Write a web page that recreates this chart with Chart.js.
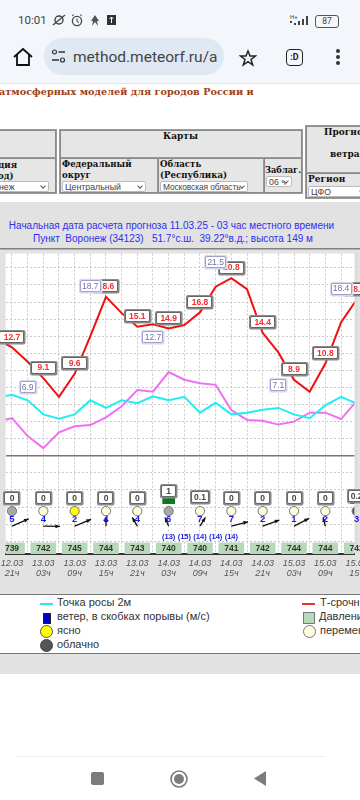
<!DOCTYPE html>
<html lang="ru"><head><meta charset="utf-8"><title>Прогноз</title>
<script src="https://cdn.jsdelivr.net/npm/chart.js@4"></script>
<style>
html,body{margin:0;padding:0;background:#fff;width:360px;height:800px;overflow:hidden;font-family:"Liberation Sans",Arial,sans-serif}
.a{position:absolute;white-space:nowrap}
.s{font-family:"DejaVu Serif",serif;font-weight:bold;color:#111}
.cell{position:absolute;border:1px solid #8a8a8a;background:#e6e6e6;box-sizing:border-box;box-shadow:0 0 0 1px #9a9a9a}
.sel{position:absolute;background:#fff;border:1px solid #bbb;border-radius:2px;font:8.8px "Liberation Sans",sans-serif;color:#444;box-sizing:border-box;padding-left:2px;line-height:10px;height:11px;white-space:nowrap;overflow:hidden}
.sel:after{content:"";position:absolute;right:3px;top:2px;width:3px;height:3px;border-right:1px solid #555;border-bottom:1px solid #555;transform:rotate(45deg);background:#fff}
.leg{position:absolute;font:11px "Liberation Sans",sans-serif;color:#333;white-space:nowrap}
</style></head><body>
<div class="a" style="left:0;top:0;width:360px;height:83px;background:#f3f6fb;border-bottom:1px solid #e4e6ea"></div>
<div class="a" style="left:18px;top:13px;font:11.5px Roboto,sans-serif;color:#444">10:01</div>
<svg class="a" style="left:52px;top:13px" width="118" height="14" viewBox="0 0 118 14">
<circle cx="7" cy="7" r="4" fill="none" stroke="#444" stroke-width="1.4"/><path d="M1 12L13 2" stroke="#444" stroke-width="1.3"/>
<circle cx="25" cy="8" r="4.6" fill="none" stroke="#444" stroke-width="1.3"/><path d="M25 5.5V8.5L27 9.5M20 3L22 1.5M30 3L28 1.5" stroke="#444" fill="none"/>
<path d="M43 2L47 8H45L46 13L43 9L40 13L41 8H39Z" fill="#555"/>
<rect x="55" y="2" width="9" height="10" fill="#333"/><path d="M59.5 4V10M57.5 6L59.5 4L61.5 6" stroke="#fff" fill="none"/></svg>
<div class="a" style="left:290px;top:13px;font:6px Roboto,sans-serif;color:#444">H+</div>
<svg class="a" style="left:289px;top:14px" width="22" height="12" viewBox="0 0 22 12"><path d="M1 8h2M6 9v2M10 7v4M14 5v6M18 2v9" stroke="#444" stroke-width="2"/></svg>
<div class="a" style="left:315px;top:15px;width:22px;height:11px;border:1px solid #555;border-radius:3px;font:8.5px/11px Roboto,sans-serif;color:#444;text-align:center;box-sizing:content-box">87</div>
<svg class="a" style="left:12px;top:46px" width="22" height="22" viewBox="0 0 22 22"><path d="M2 11L11 3L20 11M5 9V19H17V9" fill="none" stroke="#111" stroke-width="1.8"/></svg>
<div class="a" style="left:44px;top:38px;width:180px;height:37px;border-radius:19px;background:#dfe8f3"></div>
<svg class="a" style="left:51px;top:49px" width="15" height="15" viewBox="0 0 15 15"><circle cx="3.5" cy="3" r="2" fill="none" stroke="#333" stroke-width="1.2"/><path d="M7.500 3H14M1 11H8" stroke="#333" stroke-width="1.4"/><circle cx="11.500" cy="11" r="2" fill="none" stroke="#333" stroke-width="1.2"/></svg>
<div class="a" style="left:73px;top:48px;width:145px;overflow:hidden;font:15.5px Roboto,sans-serif;color:#444">method.meteorf.ru/an</div>
<svg class="a" style="left:239px;top:49px" width="18" height="18" viewBox="0 0 18 18"><path d="M9 2L11 7H16.500L12 10.500L13.700 16L9 12.700L4.300 16L6 10.500L1.500 7H7Z" fill="none" stroke="#222" stroke-width="1.5"/></svg>
<div class="a" style="left:286px;top:49px;width:15px;height:15px;border:1.5px solid #222;border-radius:4px;font:bold 9px/15px Roboto,sans-serif;text-align:center;color:#222">:D</div>
<svg class="a" style="left:334px;top:48px" width="8" height="18" viewBox="0 0 8 18"><circle cx="4" cy="3" r="2" fill="#333"/><circle cx="4" cy="9" r="2" fill="#333"/><circle cx="4" cy="15" r="2" fill="#333"/></svg>

<div class="a" style="left:-1px;top:86px;font:bold 9.7px 'DejaVu Serif',serif;color:#a33d12">атмосферных моделей для городов России и</div>

<div class="cell" style="left:-4px;top:130px;width:60px;height:28px"></div>
<div class="cell" style="left:-4px;top:158px;width:60px;height:35px"></div>
<div class="a s" style="left:-2px;top:160px;font-size:8.6px;line-height:11px">ция<br>од)</div>
<div class="sel" style="left:-4px;top:181px;width:53px">неж</div>
<div class="cell" style="left:60px;top:130px;width:242px;height:28px"></div>
<div class="a s" style="left:163px;top:131px;font-size:9px">Карты</div>
<div class="cell" style="left:60px;top:158px;width:98px;height:35px"></div>
<div class="a s" style="left:62px;top:159px;font-size:8.6px;line-height:11px">Федеральный<br>округ</div>
<div class="sel" style="left:62px;top:181px;width:84px">Центральный</div>
<div class="cell" style="left:158px;top:158px;width:106px;height:35px"></div>
<div class="a s" style="left:160px;top:159px;font-size:8.6px;line-height:11px">Область<br>(Республика)</div>
<div class="sel" style="left:160px;top:181px;width:88px;font-size:8.4px;letter-spacing:-.1px">Московская область</div>
<div class="cell" style="left:264px;top:158px;width:38px;height:35px"></div>
<div class="a s" style="left:265px;top:165px;font-size:8.3px">Заблаг.</div>
<div class="sel" style="left:266px;top:176px;width:26px">06 ч</div>
<div class="cell" style="left:306px;top:126px;width:60px;height:47px"></div>
<div class="a s" style="left:324px;top:127px;font-size:9px">Прогно</div>
<div class="a s" style="left:330px;top:149px;font-size:9px">ветра</div>
<div class="cell" style="left:306px;top:173px;width:60px;height:25px"></div>
<div class="a s" style="left:308px;top:174px;font-size:9px">Регион</div>
<div class="sel" style="left:308px;top:186px;width:60px">ЦФО</div>

<div class="a" style="left:0;top:202px;width:360px;height:47px;background:#e2e2e2"></div>
<div class="a" style="left:0;top:220px;width:343px;text-align:center;font:10px 'Liberation Sans',sans-serif;color:#2f2ff0">Начальная дата расчета прогноза 11.03.25 - 03 час местного времени</div>
<div class="a" style="left:33px;top:233px;font:10px 'Liberation Sans',sans-serif;color:#2f2ff0">Пункт &nbsp;Воронеж (34123) &nbsp; 51.7°с.ш. &nbsp;39.22°в.д.; высота 149 м</div>

<canvas id="c" class="a" style="left:0;top:248px;display:block" width="360" height="346"></canvas>

<div class="a" style="left:0;top:594px;width:360px;height:60px;background:#fff;border-top:1px solid #777;border-bottom:1px solid #777;box-sizing:border-box"></div>
<div class="a" style="left:0;top:654px;width:360px;height:20px;background:#e2e2e2"></div>
<div class="a" style="left:40px;top:603px;width:13px;height:2px;background:#2fe6ee"></div>
<div class="leg" style="left:57px;top:596px">Точка росы 2м</div>
<div class="a" style="left:43px;top:613px;width:6px;height:9px;background:#0000c8;border:1px solid #222;box-sizing:content-box"></div>
<div class="leg" style="left:57px;top:610px">ветер, в скобках порывы (м/с)</div>
<div class="a" style="left:40px;top:625px;width:11px;height:11px;border-radius:50%;background:#ffff00;border:1px solid #555"></div>
<div class="leg" style="left:57px;top:624px">ясно</div>
<div class="a" style="left:40px;top:639px;width:11px;height:11px;border-radius:50%;background:#555;border:1px solid #444"></div>
<div class="leg" style="left:57px;top:638px">облачно</div>
<div class="a" style="left:302px;top:603px;width:13px;height:2px;background:#f03030"></div>
<div class="leg" style="left:320px;top:596px">Т-срочн</div>
<div class="a" style="left:303px;top:612px;width:10px;height:10px;background:#b8d8b8;border:1px solid #777"></div>
<div class="leg" style="left:319px;top:610px">Давлени</div>
<div class="a" style="left:303px;top:625px;width:11px;height:11px;border-radius:50%;background:#ffffdd;border:1px solid #777"></div>
<div class="leg" style="left:320px;top:624px">перемен</div>

<div class="a" style="left:16px;top:756px;width:310px;height:1px;background:#efefef"></div>
<div class="a" style="left:91px;top:772px;width:13px;height:13px;border-radius:2px;background:#7c7c7c"></div>
<svg class="a" style="left:169px;top:769px" width="20" height="20" viewBox="0 0 20 20"><circle cx="10" cy="10" r="8" fill="none" stroke="#7c7c7c" stroke-width="1.600"/><circle cx="10" cy="10" r="5" fill="#7c7c7c"/></svg>
<svg class="a" style="left:253px;top:770px" width="14" height="17" viewBox="0 0 14 17"><path d="M13 1V16L1 8.500Z" fill="#7c7c7c"/></svg>

<script>
const SLOT_LABELS = ["12.03|21ч","13.03|03ч","13.03|09ч","13.03|15ч","13.03|21ч","14.03|03ч","14.03|09ч","14.03|15ч","14.03|21ч","15.03|03ч","15.03|09ч","15.03|15ч"];
const tempX = [-1,0,1,2,3,4,5,6,7,8,9,10,11,12,13,14,15,16,17,18,19,20,21,22];
const tempValues = [13.7,12.7,11.0,9.1,6.9,9.6,14.0,18.6,16.7,15.1,15.4,14.9,15.3,16.8,19.8,20.8,19.5,14.4,12.1,8.9,7.5,10.8,15.6,18.3];
const dewValues = [6.8,7.15,6.5,4.85,4.35,4.85,6.5,5.6,6.5,6.15,6.95,6.5,6.9,5.05,6.2,4.85,5.05,5.4,5.6,4.85,4.4,5.9,6.9,6.1];
const feelValues = [4.0,4.4,2.3,0.9,2.75,3.45,3.6,4.5,5.8,7.7,7.5,9.8,8.9,8.5,8.3,5.35,4.2,4.1,3.65,4.0,5.05,5.05,4.3,6.4];
const extremeX = [1,5,9,13,17,21];
const extremeValues = [6.9,18.7,12.7,21.5,7.1,18.4];
const slotX = [0,2,4,6,8,10,12,14,16,18,20,22];
const tempLabels = [12.7,9.1,9.6,18.6,15.1,14.9,16.8,20.8,14.4,8.9,10.8,18.3];
const precip = [0,0,0,0,0,1,0.1,0,0,0,0,0.2];
const clouds = ["mid","part","clear","part","part","mid","part","part","part","part","part","dark"];
const windSpeed = [5,4,2,4,4,6,7,7,2,1,2,3];
const windU = [16.7,16.7,16.4,0,-5,-3.7,5.4,16.7,16.7,15,-2.3,0];
const windV = [7.3,-0.3,6.7,8.7,8.7,8.7,8.7,4.3,6,7.7,8.7,0];
const gustX = [10,11,12,13,14];
const gustValues = [13,15,14,14,14];
const pressure = [739,742,745,744,743,740,740,741,742,744,744,742];
const xGrid = [0,1,2,3,4,5,6,7,8,9,10,11,12,13,14,15,16,17,18,19,20,21,22];
const yGrid = [-10,-8,-6,-4,-2,0,2,4,6,8,10,12,14,16,18,20,22];

const CLOUD = {clear:"#ffff00",part:"#ffffdc",mid:"#a8a8a8",dark:"#555555"};
const X0 = -0.408, X1 = 21.855;
const T_MIN = -11.5, T_MAX = 23.67;
const CLOUD_LEVEL = -6.48, WIND_LEVEL = -7.65, GUST_LEVEL = -9.45, PRESS_LO = -11.47, PRESS_HI = -10.2;

const pts = (xs, ys) => ys.map((y,i) => ({x:xs[i], y}));

function box(ctx, cx, cy, text, o){
  ctx.font = o.font;
  const w = o.w || Math.ceil(ctx.measureText(text).width) + 4, h = o.h || 12;
  const x = Math.round(cx - w/2), y = Math.round(cy - h/2);
  if (o.shadow){ ctx.fillStyle = o.shadow; ctx.beginPath(); ctx.roundRect(x-1,y-1,w+2.5,h+2.5,2); ctx.fill(); }
  ctx.fillStyle = "#fff"; ctx.strokeStyle = o.border; ctx.lineWidth = 1;
  ctx.beginPath(); ctx.roundRect(x+.5,y+.5,w-1,h-1,1.5); ctx.fill(); ctx.stroke();
  ctx.fillStyle = o.color; ctx.textAlign = "center"; ctx.textBaseline = "middle";
  ctx.fillText(text, cx, cy + .5);
}

const overlay = {
  id:"overlay",
  beforeDraw(ch){
    const {ctx, chartArea:a} = ch;
    ctx.save(); ctx.fillStyle = "#e2e2e2"; ctx.fillRect(0,0,ch.width,ch.height);
    ctx.fillStyle = "#fff"; ctx.fillRect(a.left,a.top,a.width,a.height); ctx.restore();
  },
  afterDatasetsDraw(ch){
    const {ctx, scales:{x,y,p}} = ch;
    ctx.save();
    ctx.fillStyle = "#808080"; ctx.fillRect(0,0,ch.width,1.5);
    // wind arrows + speed
    slotX.forEach((sx,i)=>{
      const u = windU[i], v = windV[i];
      const px = x.getPixelForValue(sx), base = y.getPixelForValue(WIND_LEVEL);
      const py = base + 5;
      if (u||v){
        ctx.strokeStyle = "#111"; ctx.fillStyle="#111"; ctx.lineWidth = 1.3;
        ctx.beginPath(); ctx.moveTo(px,py); ctx.lineTo(px+u,py-v); ctx.stroke();
        const t = Math.atan2(-v,u); ctx.beginPath();
        ctx.moveTo(px+u,py-v);
        ctx.lineTo(px+u-5*Math.cos(t-.4),py-v-5*Math.sin(t-.4));
        ctx.lineTo(px+u-5*Math.cos(t+.4),py-v-5*Math.sin(t+.4));
        ctx.fill();
      }
      ctx.fillStyle = "#1a1ae6"; ctx.font = "bold 9.5px 'Liberation Sans',sans-serif"; ctx.textAlign="center"; ctx.textBaseline="middle";
      ctx.fillText(String(windSpeed[i]), px, base - 1.5);
    });
    // gust labels
    ctx.fillStyle = "#2020e0"; ctx.font = "bold 7.5px 'Liberation Sans',sans-serif";
    gustX.forEach((gx,i)=> ctx.fillText("("+gustValues[i]+")", x.getPixelForValue(gx), y.getPixelForValue(GUST_LEVEL)));
    // pressure text
    ctx.fillStyle = "#333"; ctx.font = "bold 8.5px 'Liberation Sans',sans-serif";
    slotX.forEach((sx,i)=> ctx.fillText(String(pressure[i]), x.getPixelForValue(sx), y.getPixelForValue((PRESS_LO+PRESS_HI)/2)+.5));
    // precipitation boxes
    slotX.forEach((sx,i)=>{
      const top = p.getPixelForValue(precip[i]);
      box(ctx, x.getPixelForValue(sx), top-6, String(precip[i]), {font:"bold 8.5px 'Liberation Sans',sans-serif",color:"#444",border:"#666",shadow:"#8a8a8a",h:12,w:precip[i]>0&&precip[i]<1?18:15});
    });
    // temperature labels
    slotX.forEach((sx,i)=>{
      box(ctx, x.getPixelForValue(sx), y.getPixelForValue(tempLabels[i])-10.5, tempLabels[i].toFixed(1), {font:"bold 8.5px 'Liberation Sans',sans-serif",color:"#f03030",border:"#666",shadow:"#8a8a8a",w:25});
    });
    // model extreme labels (on top of the red ones)
    extremeX.forEach((ex,i)=>{
      box(ctx, x.getPixelForValue(ex), y.getPixelForValue(extremeValues[i])-10, extremeValues[i].toFixed(1), {font:"8.5px 'Liberation Sans',sans-serif",color:"#7272a8",border:"#a0a0cc",shadow:"#d8d8ea"});
    });
    ctx.restore();
  }
};

new Chart(document.getElementById("c"), {
  type:"line",
  data:{datasets:[
    {label:"Т-срочн",data:pts(tempX,tempValues),borderColor:"#f01010",borderWidth:2,pointRadius:0,tension:0,order:1},
    {label:"Точка росы 2м",data:pts(tempX,dewValues),borderColor:"#22eef2",borderWidth:2,pointRadius:0,tension:0,order:2},
    {label:"перем",data:pts(tempX,feelValues),borderColor:"#f070f5",borderWidth:2,pointRadius:0,tension:0,order:3},
    {type:"bar",label:"Осадки",yAxisID:"p",data:pts(slotX,precip),backgroundColor:"#0a7a1e",barThickness:12,grouped:false,order:5},
    {type:"bar",label:"Давление",data:slotX.map(sx=>({x:sx,y:[PRESS_LO,PRESS_HI]})),backgroundColor:"#b9d8b9",barThickness:25,grouped:false,order:6},
    {type:"scatter",label:"Облачность",data:slotX.map(sx=>({x:sx,y:CLOUD_LEVEL})),pointRadius:4.6,pointBorderWidth:1,pointBorderColor:"#777",pointBackgroundColor:clouds.map(c=>CLOUD[c]),order:4}
  ]},
  plugins:[overlay],
  options:{
    responsive:false,animation:false,parsing:true,
    layout:{padding:0},
    plugins:{legend:{display:false},tooltip:{enabled:false}},
    scales:{
      x:{type:"linear",min:X0,max:X1,offset:false,bounds:"data",
        afterBuildTicks(s){s.ticks=xGrid.map(value=>({value}));},
        afterFit(s){s.height=40;s.paddingLeft=0;s.paddingRight=0;},
        grid:{color:"#c9c9c9",lineWidth:1,drawTicks:false,offset:false},
        border:{display:true,color:"#333",width:2,dash:[2,2]},
        ticks:{includeBounds:false,autoSkip:false,maxRotation:0,padding:4,color:"#555",
          font:{family:"'Liberation Sans',sans-serif",size:9,style:"italic",lineHeight:1.12},
          callback(v){const i=slotX.indexOf(v);return i<0?"":SLOT_LABELS[i].split("|");}}},
      y:{min:T_MIN,max:T_MAX,bounds:"data",
        afterBuildTicks(s){s.ticks=yGrid.map(value=>({value}));},
        afterFit(s){s.width=0;s.paddingTop=0;s.paddingBottom=0;},
        grid:{color:c=>c.tick.value===0?"#777":"#c9c9c9",lineWidth:c=>c.tick.value===0?1.5:1,drawTicks:false},
        border:{display:false,dash:c=>c.tick&&c.tick.value===0?[]:[2,2]},
        ticks:{display:false,includeBounds:false}},
      p:{position:"right",display:false,min:-7.89,max:39.2}
    }
  }
});
</script>
</body></html>
